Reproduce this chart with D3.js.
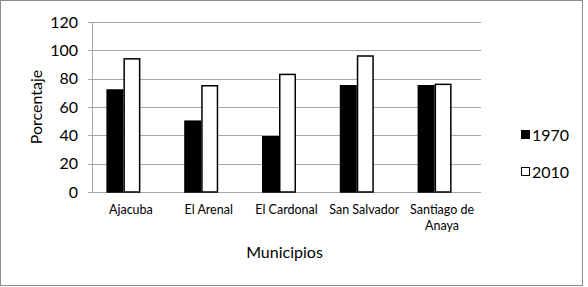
<!DOCTYPE html>
<html lang="es">
<head>
<meta charset="UTF-8">
<title>Porcentaje por municipio</title>
<style>
  body { margin: 0; background: #fff; }
  text { font-family: Lato, "Open Sans", sans-serif; fill: #000; }
</style>
</head>
<body>
<div class="canvas"></div>
<script src="https://cdnjs.cloudflare.com/ajax/libs/d3/7.8.5/d3.min.js"></script>
<script>
// data
const municipios = ['Ajacuba', 'El Arenal', 'El Cardonal', 'San Salvador', 'Santiago de Anaya'];
const years = ['1970', '2010'];
const values1970 = [72, 50, 39, 75, 75];
const values2010 = [94, 75, 83, 96, 76];
const yTicks = [0, 20, 40, 60, 80, 100, 120];

const data = municipios.map((m, i) => ({name: m, '1970': values1970[i], '2010': values2010[i]}));

const width = 588, height = 287;
const margin = {top: 22, right: 107, bottom: 95, left: 92};
const graphWidth = width - margin.left - margin.right;
const graphHeight = height - margin.top - margin.bottom;

const svg = d3.select('.canvas')
  .append('svg')
    .attr('width', width)
    .attr('height', height);

// outer chart border
svg.append('rect')
  .attr('x', 0.5).attr('y', 0.5)
  .attr('width', 582).attr('height', 285)
  .attr('fill', 'none')
  .attr('stroke', '#8c8c8c');

const graph = svg.append('g')
  .attr('transform', `translate(${margin.left}, ${margin.top})`);

const x = d3.scaleBand()
  .domain(municipios)
  .range([0, graphWidth]);

const x1 = d3.scaleBand()
  .domain(years)
  .range([0, 34]);

const y = d3.scaleLinear()
  .domain([0, 120])
  .range([graphHeight, 0]);

const colour = d3.scaleOrdinal().domain(years).range(['#000', '#fff']);

// gridlines
graph.append('g')
  .selectAll('line')
  .data(yTicks)
  .enter().append('line')
    .attr('x1', -4).attr('x2', graphWidth)
    .attr('y1', d => Math.round(y(d)) + 0.5)
    .attr('y2', d => Math.round(y(d)) + 0.5)
    .attr('stroke', '#a6a6a6');

// y axis line
graph.append('line')
  .attr('x1', 0.5).attr('x2', 0.5)
  .attr('y1', 0).attr('y2', graphHeight)
  .attr('stroke', '#a6a6a6');

// y tick labels
const yAxis = d3.axisLeft(y).tickValues(yTicks).tickSize(0).tickPadding(14);
const yAxisGroup = graph.append('g').call(yAxis);
yAxisGroup.select('.domain').remove();
yAxisGroup.selectAll('text')
  .style('font-size', '16px')
  .style('font-family', 'Lato, sans-serif');

// bars, groups sit a bit left of the category centre like the original
const groups = graph.selectAll('g.grp')
  .data(data)
  .enter().append('g')
    .attr('class', 'grp')
    .attr('transform', d => `translate(${x(d.name) + x.bandwidth() / 2 - 17 - 7.5}, 0)`);

groups.selectAll('rect')
  .data(d => years.map(k => ({key: k, value: d[k]})))
  .enter().append('rect')
    .attr('x', d => x1(d.key) + 0.75)
    .attr('y', d => y(d.value))
    .attr('width', x1.bandwidth() - 1.5)
    .attr('height', d => graphHeight - y(d.value))
    .attr('fill', d => colour(d.key))
    .attr('stroke', '#000')
    .attr('stroke-width', 1.5);

// category labels
const xLabels = graph.append('g')
  .attr('transform', `translate(0, ${graphHeight})`);
xLabels.selectAll('text')
  .data(municipios)
  .enter().append('text')
    .attr('x', d => x(d) + x.bandwidth() / 2)
    .attr('y', 22)
    .attr('text-anchor', 'middle')
    .style('font-size', '12.5px')
    .each(function(d) {
      const t = d3.select(this);
      const parts = d === 'Santiago de Anaya' ? ['Santiago de', 'Anaya'] : [d];
      parts.forEach((p, i) => {
        t.append('tspan')
          .attr('x', x(d) + x.bandwidth() / 2)
          .attr('dy', i === 0 ? 0 : 16)
          .text(p);
      });
    });

// axis titles
svg.append('text')
  .attr('x', margin.left + graphWidth / 2 - 2)
  .attr('y', 258)
  .attr('text-anchor', 'middle')
  .style('font-size', '16px')
  .text('Municipios');

svg.append('text')
  .attr('transform', `translate(42, ${margin.top + graphHeight / 2}) rotate(-90)`)
  .attr('text-anchor', 'middle')
  .style('font-size', '16px')
  .text('Porcentaje');

// legend
const legend = svg.append('g')
  .attr('transform', 'translate(521, 130)');

const legendItems = legend.selectAll('g')
  .data(years)
  .enter().append('g')
    .attr('transform', (d, i) => `translate(0, ${i * 37})`);

legendItems.append('rect')
  .attr('x', 0.5).attr('y', 0.5)
  .attr('width', 8).attr('height', 8)
  .attr('fill', d => colour(d))
  .attr('stroke', '#000')
  .attr('stroke-width', 1);

legendItems.append('text')
  .attr('x', 11)
  .attr('y', 10.5)
  .style('font-size', '16px')
  .text(d => d);
</script>
</body>
</html>
